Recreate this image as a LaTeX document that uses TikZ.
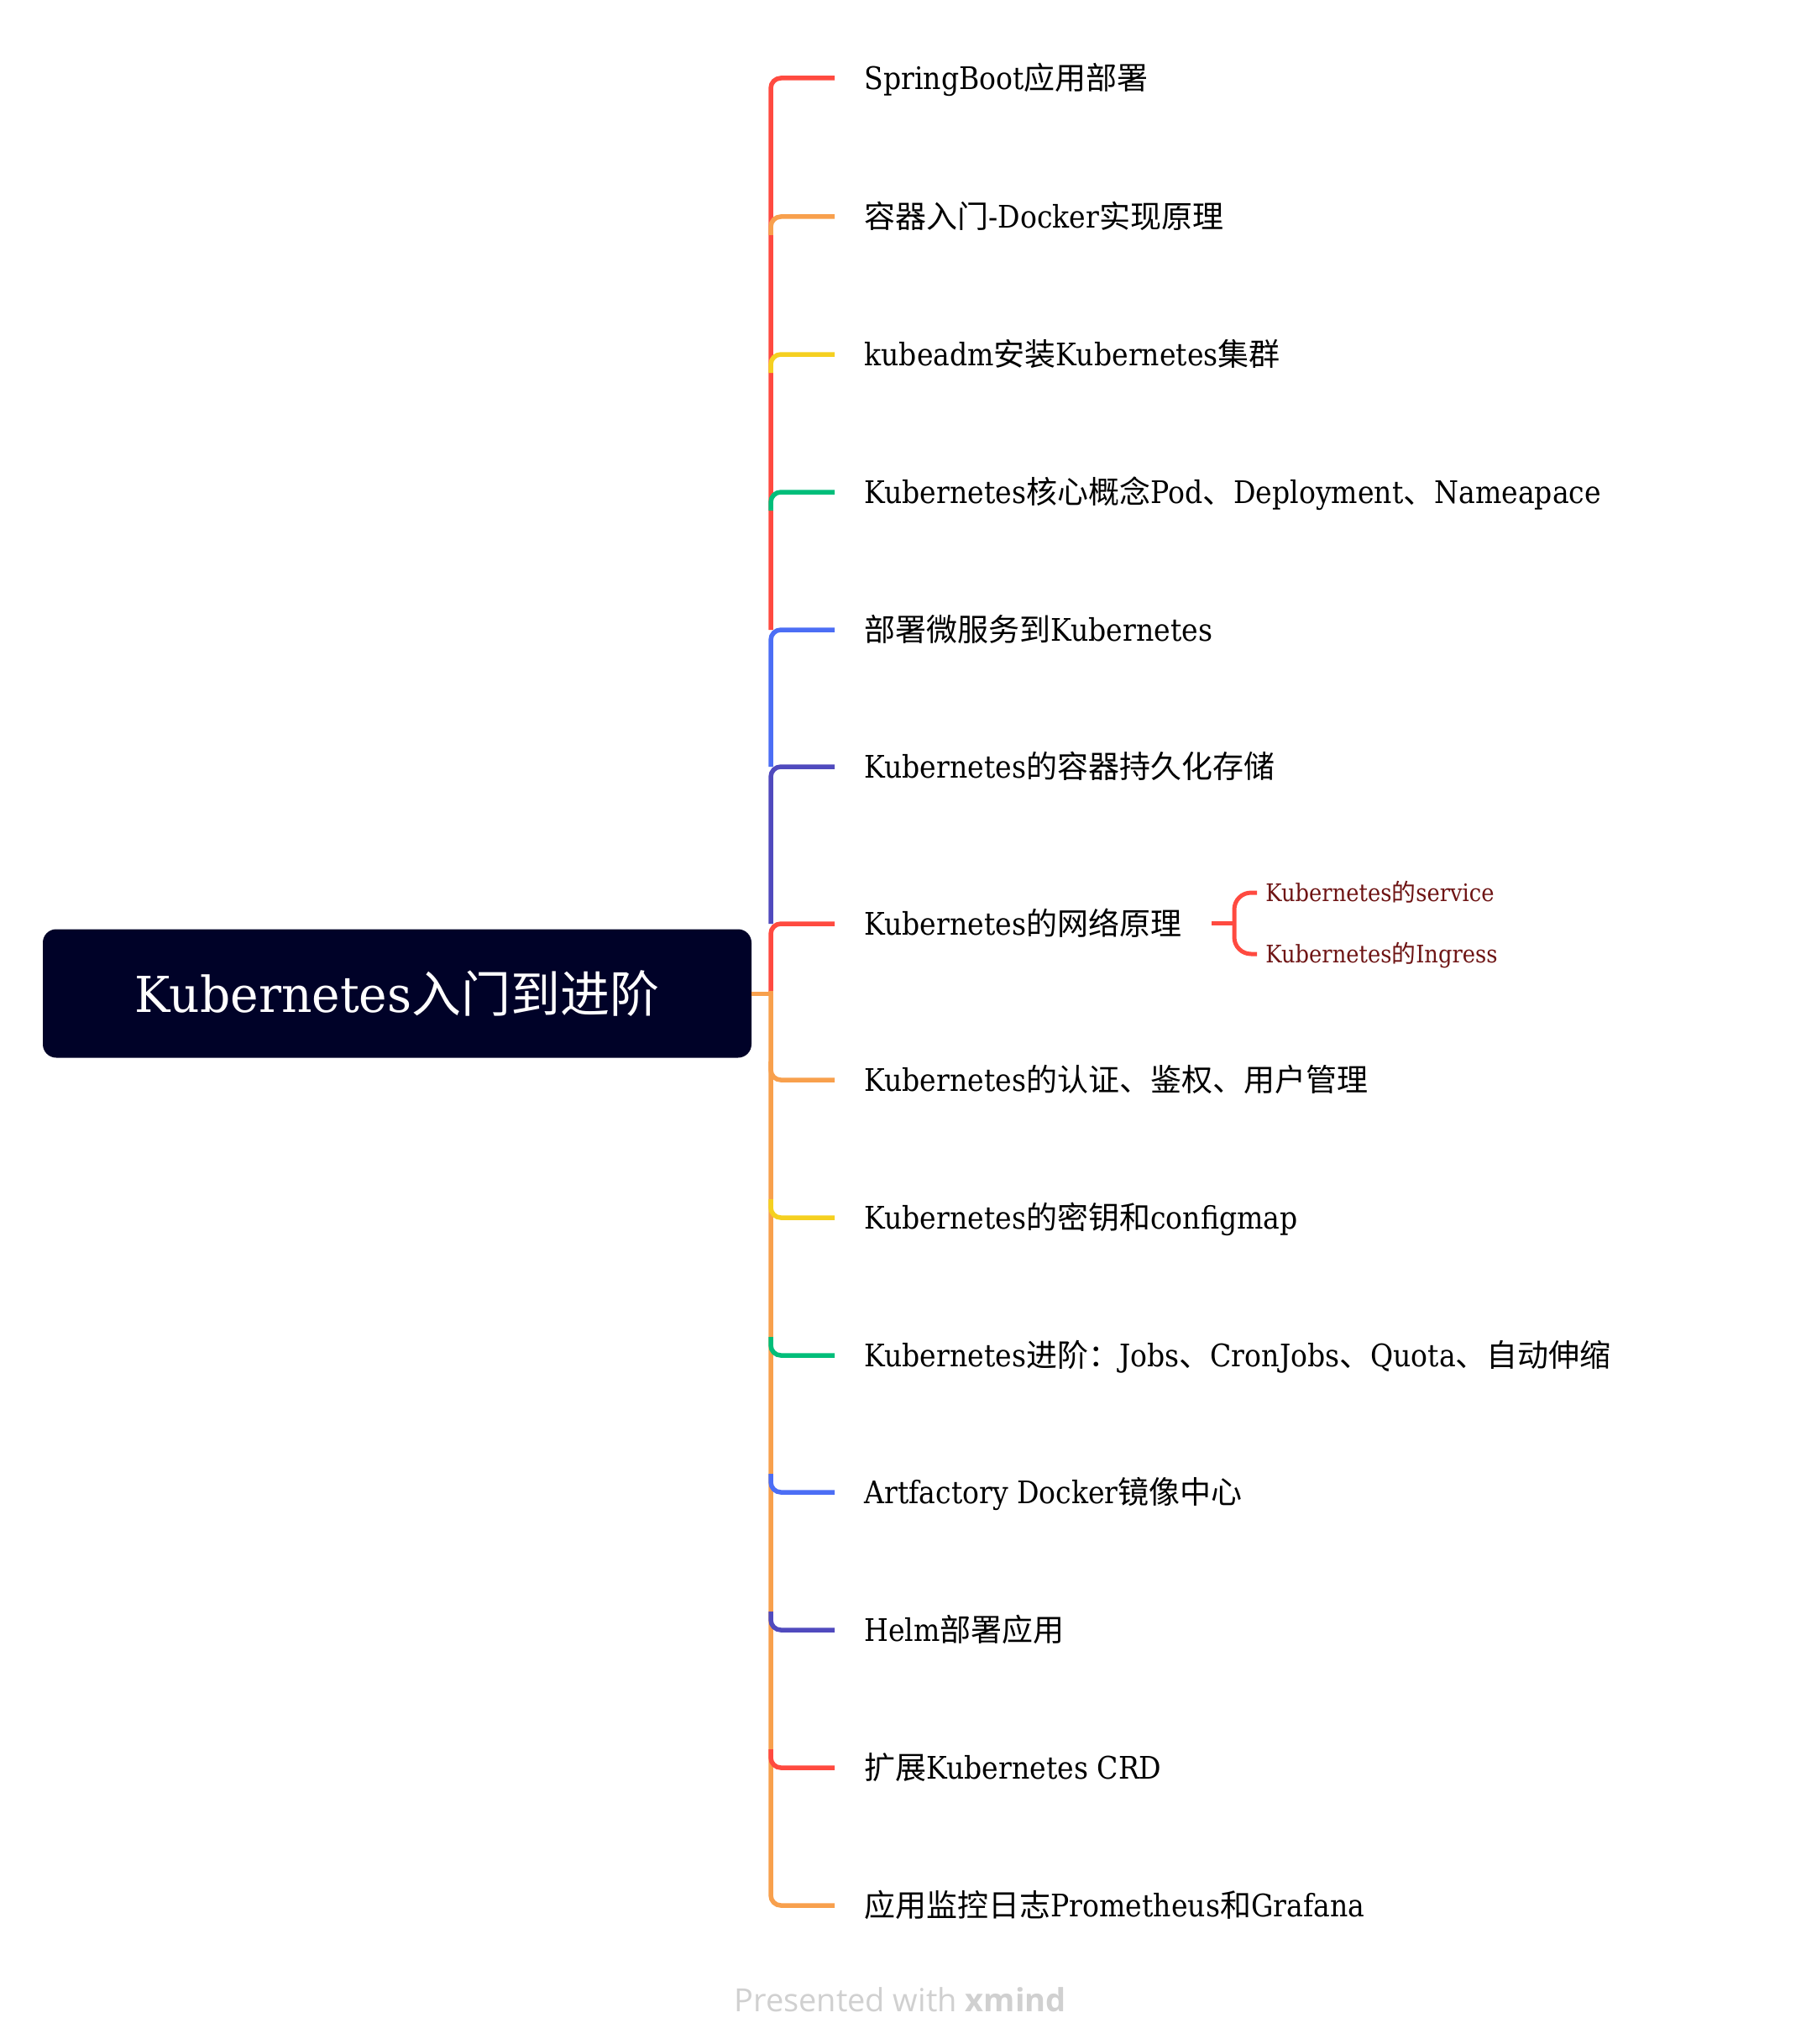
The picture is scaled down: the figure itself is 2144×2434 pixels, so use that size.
\documentclass[tikz,border=0pt]{standalone}
\usepackage{fontspec}
\setmainfont{DejaVu Serif}[FakeStretch=0.895]
\newfontfamily\rootfont{DejaVu Serif}[FakeStretch=0.96]
\newfontfamily\cjk{Noto Sans CJK SC}
\newfontfamily\wmfont{Open Sans}
\definecolor{cred}{HTML}{FF4A40}
\definecolor{corange}{HTML}{F8A04D}
\definecolor{cyellow}{HTML}{F5D020}
\definecolor{cgreen}{HTML}{00BE7A}
\definecolor{cblue}{HTML}{4C6EF5}
\definecolor{cpurple}{HTML}{504ABE}
\definecolor{rootfill}{HTML}{000228}
\definecolor{childtext}{HTML}{6E1414}
\definecolor{wmgray}{HTML}{D0D0D0}
\tikzset{
  br/.style={line width=2.75pt, rounded corners=6pt},
  txt/.style={font=\fontsize{18.5}{22}\selectfont, inner sep=0pt, anchor=base west, text=black},
  childtxt/.style={font=\fontsize{14.4}{17}\selectfont, inner sep=0pt, anchor=base west, text=childtext},
  rootbox/.style={fill=rootfill, rounded corners=8pt, minimum width=422pt, minimum height=76.5pt, inner sep=0pt, text=white, font=\rootfont\fontsize{29.5}{34}\selectfont},
  wm/.style={font=\wmfont\fontsize{19}{22}\selectfont, text=wmgray, inner sep=0pt, anchor=base west}
}
\begin{document}
\begin{tikzpicture}[x=0.5pt,y=-0.5pt]
\useasboundingbox[fill=white] (0,0) rectangle (2144,2434);
% root
\node[rootbox] (root) at (473,1183) {Kubernetes{\cjk 入门到进阶}};
\coordinate (j) at (918,1183);
% branch ends
\coordinate (e1) at (994,93);
\coordinate (e2) at (994,258);
\coordinate (e3) at (994,422);
\coordinate (e4) at (994,586);
\coordinate (e5) at (994,750);
\coordinate (e6) at (994,913);
\coordinate (e7) at (994,1100);
\coordinate (e8) at (994,1286);
\coordinate (e9) at (994,1450);
\coordinate (e10) at (994,1614);
\coordinate (e11) at (994,1777);
\coordinate (e12) at (994,1941);
\coordinate (e13) at (994,2105);
\coordinate (e14) at (994,2269);
% trunk starts
\coordinate (s1) at (918,750);
\coordinate (s2) at (918,280);
\coordinate (s3) at (918,444);
\coordinate (s4) at (918,608);
\coordinate (s5) at (918,913);
\coordinate (s6) at (918,1100);
\coordinate (s7) at (918,1183);
\coordinate (s8) at (918,1264);
\coordinate (s9) at (918,1428);
\coordinate (s10) at (918,1592);
\coordinate (s11) at (918,1755);
\coordinate (s12) at (918,1919);
\coordinate (s13) at (918,2083);
\coordinate (s14) at (918,1180);
% texts
\node[txt] (t1) at (1029,106.5) {SpringBoot{\cjk 应用部署}};
\node[txt] (t2) at (1029,271.5) {{\cjk 容器入门}-Docker{\cjk 实现原理}};
\node[txt] (t3) at (1029,435.5) {kubeadm{\cjk 安装}Kubernetes{\cjk 集群}};
\node[txt] (t4) at (1029,599.5) {Kubernetes{\cjk 核心概念}Pod{\cjk 、}Deployment{\cjk 、}Nameapace};
\node[txt] (t5) at (1029,763.5) {{\cjk 部署微服务到}Kubernetes};
\node[txt] (t6) at (1029,926.5) {Kubernetes{\cjk 的容器持久化存储}};
\node[txt] (t7) at (1029,1113.5) {Kubernetes{\cjk 的网络原理}};
\node[txt] (t8) at (1029,1299.5) {Kubernetes{\cjk 的认证、鉴权、用户管理}};
\node[txt] (t9) at (1029,1463.5) {Kubernetes{\cjk 的密钥和}configmap};
\node[txt] (t10) at (1029,1627.5) {Kubernetes{\cjk 进阶：}Jobs{\cjk 、}CronJobs{\cjk 、}Quota{\cjk 、自动伸缩}};
\node[txt] (t11) at (1029,1790.5) {Artfactory Docker{\cjk 镜像中心}};
\node[txt] (t12) at (1029,1954.5) {Helm{\cjk 部署应用}};
\node[txt] (t13) at (1029,2118.5) {{\cjk 扩展}Kubernetes CRD};
\node[txt] (t14) at (1029,2282.5) {{\cjk 应用监控日志}Prometheus{\cjk 和}Grafana};
% children of t7
\coordinate (b0) at (1443,1099.5);
\coordinate (b1) at (1470,1099.5);
\coordinate (c1e) at (1497,1063);
\coordinate (c2e) at (1497,1136);
\node[childtxt] (c1) at (1507,1073.5) {Kubernetes{\cjk 的}service};
\node[childtxt] (c2) at (1507,1146.5) {Kubernetes{\cjk 的}Ingress};
% connectors upper half
\draw[br,cred] (s1) |- (e1);
\draw[br,cblue] (s5) |- (e5);
\draw[br,cpurple] (s6) |- (e6);
\draw[br,cred] (s7) |- (e7);
\draw[br,corange] (s2) |- (e2);
\draw[br,cyellow] (s3) |- (e3);
\draw[br,cgreen] (s4) |- (e4);
% lower half
\draw[br,corange] (s14) |- (e14);
\draw[br,corange] (s8) |- (e8);
\draw[br,cyellow] (s9) |- (e9);
\draw[br,cgreen] (s10) |- (e10);
\draw[br,cblue] (s11) |- (e11);
\draw[br,cpurple] (s12) |- (e12);
\draw[br,cred] (s13) |- (e13);
% root stub
\draw[corange, line width=2.5pt] (root.east |- j) -- ([xshift=1.4pt]j);
% sub bracket
\draw[cred, line width=2.5pt] (b0) -- (b1);
\draw[cred, line width=2.5pt, rounded corners=10pt] (c1e) -- (b1 |- c1e) -- (b1 |- c2e) -- (c2e);
% watermark
\node[wm] (wmk) at (874,2395) {Presented with {\bfseries xmind}};
\end{tikzpicture}
\end{document}
